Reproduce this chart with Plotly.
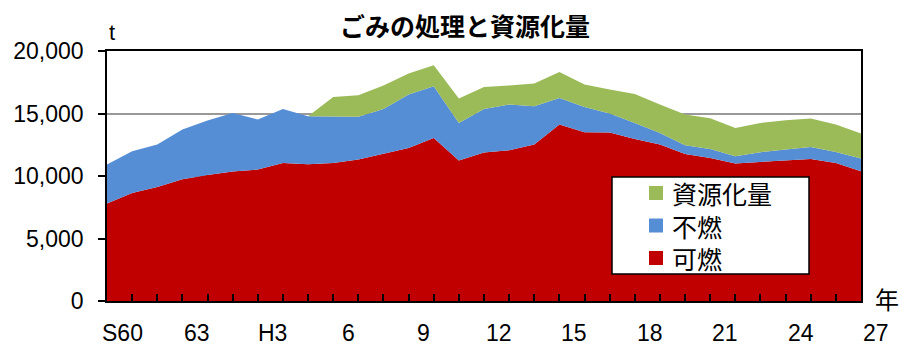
import plotly.graph_objects as go

# 年度ラベル (S60 = 1985 … H27 = 2015)
years = list(range(31))
tick_positions = [0, 3, 6, 9, 12, 15, 18, 21, 24, 27, 30]
tick_labels = ["S60", "63", "H3", "6", "9", "12", "15", "18", "21", "24", "27"]

# 可燃ごみ (t)
kanen = [7800, 8650, 9130, 9750, 10090, 10360, 10520, 11050, 10950, 11050,
         11320, 11770, 12250, 13050, 11240, 11880, 12070, 12520, 14120, 13510,
         13480, 12970, 12520, 11770, 11450, 11000, 11130, 11290, 11370, 11050,
         10390]
# 不燃ごみ (t)
funen = [3120, 3340, 3390, 3970, 4350, 4690, 4000, 4320, 3840, 3690,
         3420, 3600, 4270, 4130, 3010, 3480, 3650, 3070, 2130, 2020,
         1520, 1280, 930, 700, 720, 590, 770, 830, 960, 880,
         1010]
# 資源化量 (t)
shigen = [0, 0, 0, 0, 0, 0, 0, 0, 0, 1590,
          1730, 1870, 1680, 1690, 1950, 1770, 1520, 1810, 2080, 1790,
          1920, 2320, 2270, 2450, 2450, 2260, 2350, 2340, 2270, 2190,
          2000]

RED = "#C00000"
BLUE = "#558ED5"
GREEN = "#9BBB59"
JP = "Noto Sans CJK JP"
NUM = "Liberation Sans"

W, H = 903, 347
ML, MR, MT, MB = 107, 42, 51, 46
PW, PH = W - ML - MR, H - MT - MB


def px_x(x):
    return (x - ML) / PW


def px_y(y):
    return (H - MB - y) / PH


fig = go.Figure()
series = [("可燃", kanen, RED), ("不燃", funen, BLUE), ("資源化量", shigen, GREEN)]
for name, vals, color in series:
    fig.add_trace(go.Scatter(
        x=years, y=vals, name=name, mode="lines",
        stackgroup="one", line=dict(width=0, color=color),
        fillcolor=color, hoverinfo="skip", showlegend=False,
    ))

fig.update_layout(
    width=W, height=H,
    margin=dict(l=ML, r=MR, t=MT, b=MB),
    paper_bgcolor="white", plot_bgcolor="white",
    showlegend=False,
    title=dict(
        text="<b>ごみの処理と資源化量</b>",
        x=465 / W, xanchor="center", y=1 - 27 / H, yanchor="middle",
        font=dict(family=JP, size=25, color="black"),
    ),
)

# 凡例 (枠・色見本・名前)
fig.add_shape(type="rect", xref="paper", yref="paper",
              x0=px_x(612), x1=px_x(809), y0=px_y(274), y1=px_y(177),
              fillcolor="white", line=dict(color="black", width=1.5),
              layer="above")
row_y = [258, 225.5, 193]
for (name, _, color), ry in zip(series, row_y):
    fig.add_shape(type="rect", xref="paper", yref="paper",
                  x0=px_x(649), x1=px_x(663), y0=px_y(ry + 7), y1=px_y(ry - 7),
                  fillcolor=color, line=dict(width=0), layer="above")
legend_text = "<br>".join(name for name, _, _ in reversed(series))
fig.add_annotation(x=px_x(670), y=px_y(225.5), xref="paper", yref="paper",
                   text=legend_text, align="left", showarrow=False,
                   xanchor="left", yanchor="middle",
                   font=dict(family=JP, size=25, color="black"))

fig.update_xaxes(
    range=[0, 30], tickmode="array", tickvals=years, showticklabels=False,
    ticks="inside", ticklen=7, tickwidth=1.5, tickcolor="black",
    showline=True, linecolor="black", linewidth=1.5, mirror=True,
    showgrid=False, zeroline=False,
)
fig.update_yaxes(
    range=[0, 20000], dtick=5000, tickformat=",",
    ticks="outside", ticklen=7, tickwidth=1.5, tickcolor="black",
    ticklabelstandoff=10,
    tickfont=dict(family=NUM, size=23, color="black"),
    showline=True, linecolor="black", linewidth=1.5, mirror=True,
    showgrid=True, gridcolor="#999999", gridwidth=1.5, zeroline=False,
)

# 年度ラベル
for pos, lab in zip(tick_positions, tick_labels):
    fig.add_annotation(
        x=pos, y=0, xref="x", yref="y", yshift=-32, xshift=15,
        text=lab, showarrow=False, xanchor="center", yanchor="middle",
        font=dict(family=NUM, size=23, color="black"),
    )

# 単位
fig.add_annotation(x=px_x(112), y=px_y(33), xref="paper", yref="paper",
                   text="t", showarrow=False, xanchor="center", yanchor="middle",
                   font=dict(family=NUM, size=22, color="black"))
fig.add_annotation(x=px_x(887), y=px_y(298), xref="paper", yref="paper",
                   text="年", showarrow=False, xanchor="center", yanchor="middle",
                   font=dict(family=JP, size=24, color="black"))

fig.write_html("out.html")
